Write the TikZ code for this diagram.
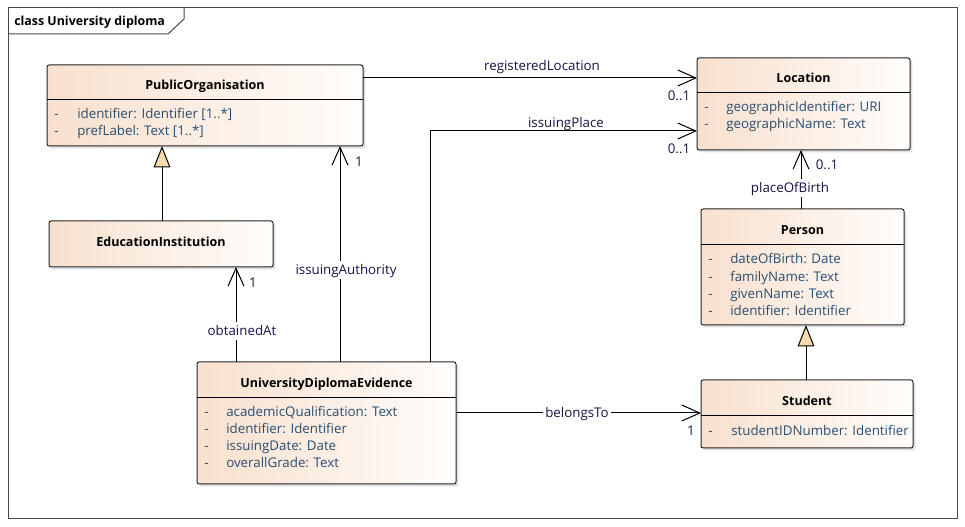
\documentclass[tikz,border=0pt]{standalone}
\usepackage{fontspec}
\setmainfont{Open Sans}
\usetikzlibrary{arrows.meta,calc,shadows}
\definecolor{clsL}{RGB}{248,224,206}
\definecolor{clsR}{RGB}{255,253,251}
\definecolor{attrC}{RGB}{42,78,112}
\definecolor{lblC}{RGB}{20,20,70}
\definecolor{triC}{RGB}{248,218,172}
\definecolor{frameC}{RGB}{70,70,70}
\begin{document}
\begin{tikzpicture}[x=0.75pt,y=-0.75pt,
  font=\fontsize{10pt}{12pt}\selectfont,
  cls/.style={draw=black!85, line width=0.75pt, rounded corners=1.6pt, left color=clsL, right color=clsR,
    inner sep=0pt, outer sep=0pt, drop shadow={shadow xshift=1.8pt, shadow yshift=-1.8pt, opacity=0.25}},
  ctitle/.style={font=\fontsize{9.4pt}{11pt}\selectfont\bfseries, inner sep=0pt, text height=1.6ex, text depth=0.4ex},
  attr/.style={text=attrC, anchor=west, inner sep=0pt, text height=1.6ex, text depth=0.4ex},
  lbl/.style={text=lblC, inner sep=1pt, text height=1.6ex, text depth=0.4ex},
  lblw/.style={text=lblC, fill=white, inner sep=1.5pt, text height=1.6ex, text depth=0.4ex},
  mult/.style={text=lblC, inner sep=0pt, text height=1.6ex, text depth=0.4ex},
  assoc/.style={draw=black, line width=0.75pt, -{Straight Barb[length=13.5pt,width=12pt,line width=0.75pt]}},
  gen/.style={draw=black, line width=0.75pt, -{Triangle[length=16pt,width=12.5pt,fill=triC,line width=0.75pt]}},
]
\useasboundingbox (0,0) rectangle (965,527);
% frame
\draw[frameC, line width=0.75pt] (8,8) rectangle (957,519);
\draw[frameC, line width=0.75pt] (8,34) -- (168,34) -- (184,19) -- (184,8);
\node[anchor=west, font=\fontsize{9.3pt}{11pt}\selectfont\bfseries, inner sep=0pt, text height=1.6ex, text depth=0.4ex] (frametitle) at (14,21) {class University diploma};

% class boxes
\node[cls, minimum width=316*0.75pt, minimum height=81*0.75pt] (po) at (205,105.5) {};
\node[cls, minimum width=213*0.75pt, minimum height=92*0.75pt] (loc) at (803.5,104) {};
\node[cls, minimum width=203*0.75pt, minimum height=116*0.75pt] (per) at (802.5,267) {};
\node[cls, minimum width=212*0.75pt, minimum height=68*0.75pt] (stu) at (807,414) {};
\node[cls, minimum width=259*0.75pt, minimum height=122*0.75pt] (ude) at (326.5,423) {};
\node[cls, minimum width=224*0.75pt, minimum height=46*0.75pt] (ei) at (161,244) {};

% dividers
\draw[line width=0.75pt] ($(po.north west)+(0,35)$) -- ($(po.north east)+(0,35)$);
\draw[line width=0.75pt] ($(loc.north west)+(0,35)$) -- ($(loc.north east)+(0,35)$);
\draw[line width=0.75pt] ($(per.north west)+(0,36)$) -- ($(per.north east)+(0,36)$);
\draw[line width=0.75pt] ($(stu.north west)+(0,36)$) -- ($(stu.north east)+(0,36)$);
\draw[line width=0.75pt] ($(ude.north west)+(0,36)$) -- ($(ude.north east)+(0,36)$);

% titles
\node[ctitle] (poT) at (205,85) {PublicOrganisation};
\node[ctitle] (locT) at (803.5,78) {Location};
\node[ctitle] (perT) at (802.5,230) {Person};
\node[ctitle] (stuT) at (807,401) {Student};
\node[ctitle] (udeT) at (326.5,383) {UniversityDiplomaEvidence};
\node[ctitle] (eiT) at (161,242) {EducationInstitution};

% attributes
\node[attr] (poD1) at (54,114) {-};
\node[attr] (poA1) at (77,114) {identifier: Identifier [1..*]};
\node[attr] (poD2) at (54,131) {-};
\node[attr] (poA2) at (77,131) {prefLabel: Text [1..*]};

\node[attr] (locD1) at (704,107) {-};
\node[attr] (locA1) at (726,107) {geographicIdentifier: URI};
\node[attr] (locD2) at (704,124) {-};
\node[attr] (locA2) at (726,124) {geographicName: Text};

\node[attr] (perD1) at (708,259) {-};
\node[attr] (perA1) at (730,259) {dateOfBirth: Date};
\node[attr] (perD2) at (708,277) {-};
\node[attr] (perA2) at (730,277) {familyName: Text};
\node[attr] (perD3) at (708,294) {-};
\node[attr] (perA3) at (730,294) {givenName: Text};
\node[attr] (perD4) at (708,311) {-};
\node[attr] (perA4) at (730,311) {identifier: Identifier};

\node[attr] (stuD1) at (708,431) {-};
\node[attr] (stuA1) at (731,431) {studentIDNumber: Identifier};

\node[attr] (udeD1) at (204,412) {-};
\node[attr] (udeA1) at (226,412) {academicQualification: Text};
\node[attr] (udeD2) at (204,429) {-};
\node[attr] (udeA2) at (226,429) {identifier: Identifier};
\node[attr] (udeD3) at (204,446) {-};
\node[attr] (udeA3) at (226,446) {issuingDate: Date};
\node[attr] (udeD4) at (204,463) {-};
\node[attr] (udeA4) at (226,463) {overallGrade: Text};

% generalizations
\draw[gen] ($(ei.north west)+(113,0)$) -- ($(po.south west)+(115,0)$);
\draw[gen] ($(stu.north west)+(105,0)$) -- ($(per.south west)+(105,0)$);

% associations
\draw[assoc] ($(po.north east)+(0,13)$) -- ($(loc.north west)+(0,20)$);
\draw[assoc] ($(ude.north west)+(233,0)$) |- ($(loc.north west)+(0,73)$);
\draw[assoc] ($(per.north west)+(100,0)$) -- ($(loc.south west)+(104,0)$);
\draw[assoc] ($(ude.north east)+(0,51)$) -- ($(stu.north west)+(0,33)$);
\draw[assoc] ($(ude.north west)+(39,0)$) -- ($(ei.south west)+(187,0)$);
\draw[assoc] ($(ude.north west)+(143,0)$) -- ($(po.south west)+(293,0)$);

% labels
\node[lbl] (lRegLoc) at (542,66) {registeredLocation};
\node[mult] (mRegLoc) at (679,96) {0..1};
\node[lbl] (lIssPl) at (566,123) {issuingPlace};
\node[mult] (mIssPl) at (679,149) {0..1};
\node[mult] (mPob) at (827,165) {0..1};
\node[lblw] (lPob) at (790,188) {placeOfBirth};
\node[lblw] (lBel) at (577,413) {belongsTo};
\node[mult] (mBel) at (691,431) {1};
\node[mult] (mObt) at (253,283) {1};
\node[lblw] (lObt) at (242,331) {obtainedAt};
\node[mult] (mIssA) at (359,162) {1};
\node[lblw] (lIssA) at (346,270) {issuingAuthority};
\end{tikzpicture}
\end{document}
